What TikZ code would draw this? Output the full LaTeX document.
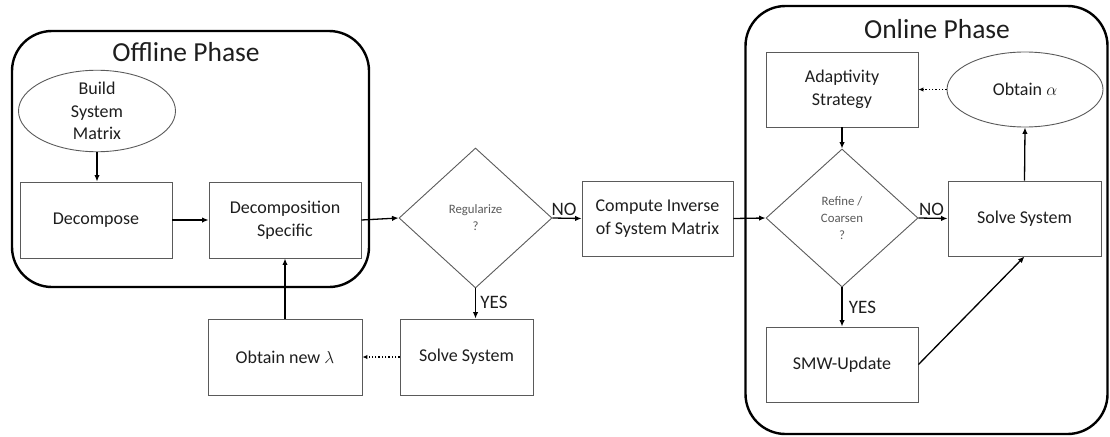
\documentclass[tikz,border=0pt]{standalone}
\usepackage{fontspec}
\setmainfont{Carlito}
\usetikzlibrary{shapes.geometric,arrows.meta}
\definecolor{txt}{HTML}{1E1E1E}
\definecolor{dtxt}{HTML}{595959}
\definecolor{edge}{HTML}{5A5A5A}
\begin{document}
\begin{tikzpicture}[x=1pt,y=-1pt,
  box/.style={draw=edge, line width=0.9pt, minimum width=152pt, minimum height=76pt, align=center,
    font=\fontsize{18}{22.5}\selectfont, text=txt, inner sep=0pt},
  ell/.style={ellipse, draw=edge, line width=0.9pt, align=center,
    font=\fontsize{18}{22.5}\selectfont, text=txt, inner sep=0pt},
  dia/.style={diamond, draw=edge, line width=0.9pt, align=center, minimum width=153pt, minimum height=140pt,
    font=\fontsize{12.8}{17}\selectfont, text=dtxt, inner sep=0pt},
  phase/.style={draw=black, line width=2.4pt, rounded corners=40pt, inner sep=0pt},
  ttl/.style={font=\fontsize{27.5}{32}\selectfont, text=txt},
  lbl/.style={font=\fontsize{19}{22}\selectfont, text=txt},
  arr/.style={line width=1.3pt, -{Latex[length=6.5pt,width=5.5pt]}},
  dotarr/.style={line width=1.3pt, dotted, -{Latex[length=5pt,width=4.5pt]}}
]
\useasboundingbox (0,0) rectangle (1110,436);
% phase frames
\node[phase, minimum width=357pt, minimum height=256pt] (offline) at (190.5,159) {};
\node[phase, minimum width=362pt, minimum height=428pt] (online) at (926.5,220) {};
\node[ttl] (offt) at (186,52) {Offline Phase};
\node[ttl] (ont) at (937,29) {Online Phase};
% offline nodes
\node[ell, minimum width=157pt, minimum height=67pt] (build) at (97,111) {Build\\System\\Matrix};
\node[box] (decomp) at (96,220) {Decompose};
\node[box] (spec) at (285,220) {Decomposition\\Specific};
\node[dia] (reg) at (475.5,218) {Regularize\\?};
\node[box, minimum width=151pt, minimum height=75pt] (inv) at (657.5,218.5) {Compute Inverse\\of System Matrix};
\node[box, minimum width=133pt] (solveA) at (466.5,357) {Solve System};
\node[box, minimum width=154pt] (lam) at (285,357) {Obtain new $\lambda$};
% online nodes
\node[box, minimum height=75pt] (adapt) at (842,89.5) {Adaptivity\\Strategy};
\node[ell, minimum width=156pt, minimum height=75pt] (alpha) at (1025,89.5) {Obtain $\alpha$};
\node[dia, minimum width=152pt, minimum height=138pt] (refine) at (842,218) {Refine /\\Coarsen\\?};
\node[box, minimum width=153pt, minimum height=75pt] (solveB) at (1024.5,218.5) {Solve System};
\node[box, minimum width=152pt, minimum height=75pt] (smw) at (842,364.5) {SMW-Update};
% connectors
\draw[arr] (build.south) -- (build.south |- decomp.north);
\draw[arr] (decomp.east) -- (spec.west);
\draw[arr] (spec.east) -- (reg.west);
\draw[arr] (reg.east) -- node[lbl, above, pos=0.4, yshift=-1pt] (no1) {NO} (inv.west);
\draw[arr] (reg.south) -- node[lbl, right, pos=0.45, xshift=1pt] (yes1) {YES} (reg.south |- solveA.north);
\draw[dotarr] (solveA.west) -- (lam.east);
\draw[arr] (lam.north) -- (spec.south);
\draw[arr] (inv.east) -- (refine.west);
\draw[arr] (adapt.south) -- (refine.north);
\draw[arr] (refine.east) -- node[lbl, above, pos=0.45, yshift=-1pt] (no2) {NO} (solveB.west);
\draw[arr] (refine.south) -- node[lbl, right, pos=0.5, xshift=3pt] (yes2) {YES} (smw.north);
\draw[arr] (smw.east) -- (solveB.south);
\draw[arr] (solveB.north) -- (alpha.south);
\draw[dotarr] (alpha.west) -- (adapt.east);
\end{tikzpicture}
\end{document}
